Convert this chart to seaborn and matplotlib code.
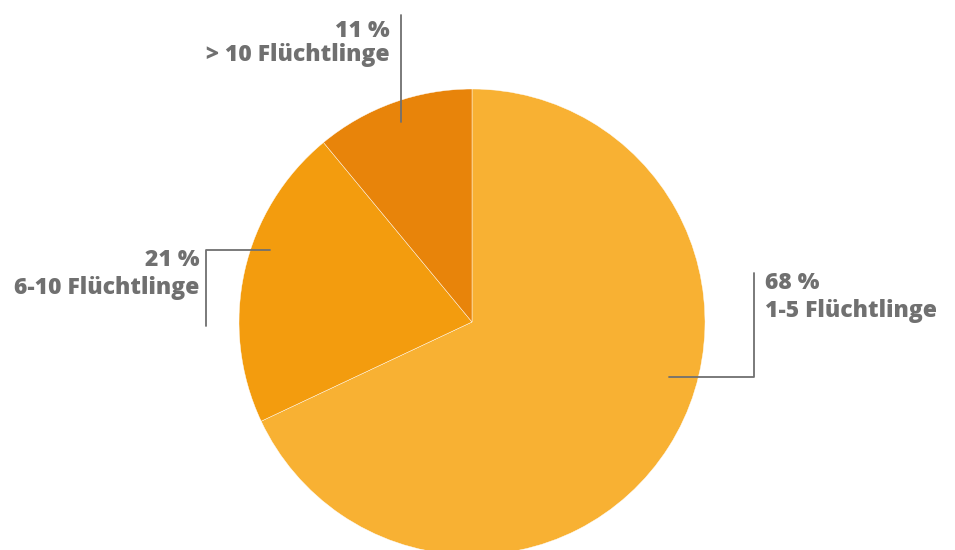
import seaborn as sns
import matplotlib.pyplot as plt

# Anteile nach Anzahl aufgenommener Flüchtlinge
kategorien = ["1-5 Flüchtlinge", "6-10 Flüchtlinge", "> 10 Flüchtlinge"]
anteile = [68, 21, 11]
farben = ["#F8B133", "#F39C0E", "#E8840A"]

sns.set_theme(style="white")
plt.rcParams["font.family"] = ["Open Sans", "DejaVu Sans"]

W, H = 955, 550
fig = plt.figure(figsize=(W / 100, H / 100), dpi=100)
ax = fig.add_axes([0, 0, 1, 1])

ax.pie(
    anteile,
    colors=farben,
    startangle=90,
    counterclock=False,
    center=(472, H - 322),
    radius=233,
    wedgeprops=dict(linewidth=0.3, edgecolor="white"),
    frame=True,
)
ax.set_xlim(0, W)
ax.set_ylim(0, H)
ax.set_aspect("equal")
ax.axis("off")

grau = "#707070"
lw = 1.3
stil = dict(fontsize=16.5, fontweight=800, color=grau, va="center")

def y(py):
    return H - py

# 11 %
ax.plot([401, 401], [y(15), y(122)], color=grau, lw=lw)
ax.text(390, y(31), f"{anteile[2]} %", ha="right", **stil)
ax.text(390, y(55), kategorien[2], ha="right", **stil)

# 21 %
ax.plot([270, 206, 206], [y(250), y(250), y(326)], color=grau, lw=lw)
ax.text(199, y(260), f"{anteile[1]} %", ha="right", **stil)
ax.text(199, y(288), kategorien[1], ha="right", **stil)

# 68 %
ax.plot([669, 754, 754], [y(377), y(377), y(273)], color=grau, lw=lw)
ax.text(765, y(283), f"{anteile[0]} %", ha="left", **stil)
ax.text(765, y(311), kategorien[0], ha="left", **stil)

fig.savefig("out.png", dpi=100, facecolor="white")
